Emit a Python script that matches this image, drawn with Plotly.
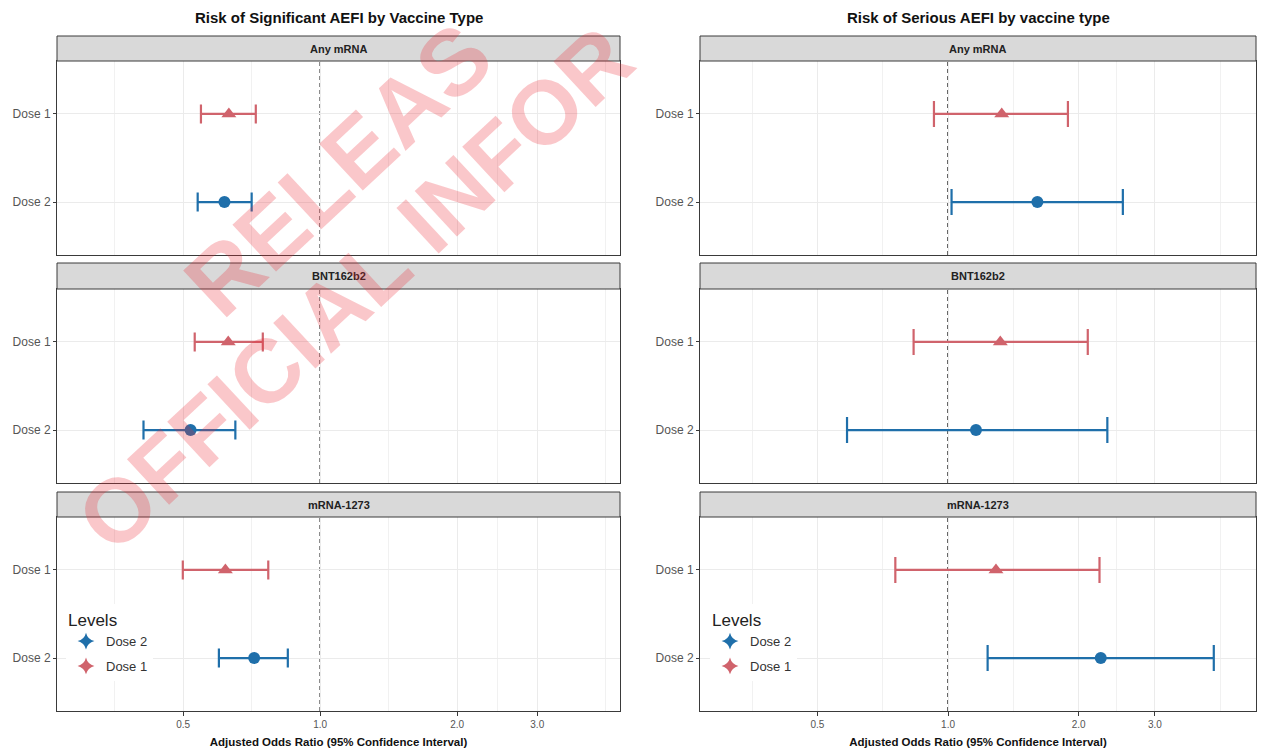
import numpy as np
import plotly.graph_objects as go

# ---------------- data ----------------
vaccines = ["Any mRNA", "BNT162b2", "mRNA-1273"]
dose_levels = ["Dose 2", "Dose 1"]          # bottom -> top
x_ticks = [0.5, 1.0, 2.0, 3.0]
x_ticktext = ["0.5", "1.0", "2.0", "3.0"]

panel_titles = ["Risk of Significant AEFI by Vaccine Type", "Risk of Serious AEFI by vaccine type"]
x_title = "Adjusted Odds Ratio (95% Confidence Interval)"
legend_title = "Levels"

# Significant AEFI (left)
sig_d1_or = [0.630, 0.628, 0.619]
sig_d1_lo = [0.547, 0.530, 0.499]
sig_d1_hi = [0.722, 0.748, 0.769]
sig_d2_or = [0.616, 0.519, 0.716]
sig_d2_lo = [0.538, 0.409, 0.599]
sig_d2_hi = [0.707, 0.651, 0.849]

# Serious AEFI (right)
ser_d1_or = [1.33, 1.32, 1.29]
ser_d1_lo = [0.928, 0.833, 0.756]
ser_d1_hi = [1.89, 2.10, 2.235]
ser_d2_or = [1.607, 1.16, 2.25]
ser_d2_lo = [1.019, 0.585, 1.234]
ser_d2_hi = [2.53, 2.33, 4.10]

# visible parts of the diagonal watermark
watermark_parts = ["RELEAS", "OFFICIAL INFOR"]

# ---------------- style ----------------
W, H = 1261, 749
RED = "#D0636C"
BLUE = "#1F6FAA"
FONT = "Liberation Sans, Arial, sans-serif"
GRID = "#EBEBEB"
BORDER = "#3A3A3A"

col_px = [(57, 620), (700, 1256)]
panel_px = [(61, 255), (289, 483), (517, 711)]
strip_px = [(36, 61), (263, 289), (492, 517)]
x_ranges = [(np.log10(0.264), np.log10(4.56)), (np.log10(0.268), np.log10(5.13))]
cap_w = [9.5, 13]

def px_x(p):
    return p / W

def px_y(p):
    return 1 - p / H

# minor grid (ggplot style midpoints in log space)
lb = np.log10(np.array(x_ticks))
bd = lb[1] - lb[0]
ext = np.concatenate([[lb[0] - bd], lb, [lb[-1] + bd]])
minor_vals = list(10 ** ((ext[:-1] + ext[1:]) / 2))

fig = go.Figure()
layout = {}
shapes = []
annotations = []

data = [
    [(sig_d1_or, sig_d1_lo, sig_d1_hi), (sig_d2_or, sig_d2_lo, sig_d2_hi)],
    [(ser_d1_or, ser_d1_lo, ser_d1_hi), (ser_d2_or, ser_d2_lo, ser_d2_hi)],
]

for c in range(2):
    for r in range(3):
        k = c * 3 + r + 1
        xa = "x" if k == 1 else f"x{k}"
        ya = "y" if k == 1 else f"y{k}"
        xkey = "xaxis" if k == 1 else f"xaxis{k}"
        ykey = "yaxis" if k == 1 else f"yaxis{k}"
        bottom = (r == 2)
        layout[xkey] = dict(
            type="log", range=list(x_ranges[c]),
            domain=[px_x(col_px[c][0]), px_x(col_px[c][1])],
            anchor=ya, tickmode="array", tickvals=x_ticks, ticktext=x_ticktext,
            showticklabels=bottom, ticks="outside" if bottom else "", ticklen=4,
            tickcolor=BORDER, tickfont=dict(size=10, color="#555", family=FONT),
            showgrid=True, gridcolor=GRID, gridwidth=1,
            minor=dict(tickmode="array", tickvals=minor_vals, showgrid=True,
                       gridcolor="#F1F1F1", gridwidth=0.6, ticks=""),
            showline=True, mirror=True, linecolor=BORDER, linewidth=1,
            zeroline=False,
        )
        if bottom:
            layout[xkey]["title"] = dict(text="<b>" + x_title + "</b>",
                                         font=dict(size=11.5, color="#111", family=FONT), standoff=8)
        layout[ykey] = dict(
            type="category", categoryorder="array", categoryarray=dose_levels,
            range=[-0.6, 1.6],
            domain=[px_y(panel_px[r][1]), px_y(panel_px[r][0])],
            anchor=xa, ticks="outside", ticklen=3, tickcolor=BORDER,
            tickfont=dict(size=12, color="#555", family=FONT),
            showgrid=True, gridcolor=GRID, gridwidth=1,
            showline=True, mirror=True, linecolor=BORDER, linewidth=1,
            zeroline=False,
        )
        # reference line at OR = 1
        shapes.append(dict(type="line", xref=xa, yref=f"{ya} domain", x0=1, x1=1, y0=0, y1=1,
                           line=dict(color="#111", width=1.3, dash="4px,3px"), layer="below"))
        # strip
        shapes.append(dict(type="rect", xref="paper", yref="paper",
                           x0=px_x(col_px[c][0]), x1=px_x(col_px[c][1]),
                           y0=px_y(strip_px[r][1]), y1=px_y(strip_px[r][0]),
                           fillcolor="#D9D9D9", line=dict(color=BORDER, width=1), layer="above"))
        annotations.append(dict(text="<b>" + vaccines[r] + "</b>", xref="paper", yref="paper",
                                x=px_x(sum(col_px[c]) / 2), y=px_y(sum(strip_px[r]) / 2),
                                showarrow=False, font=dict(size=11, color="#222", family=FONT),
                                xanchor="center", yanchor="middle"))
        # data
        (d1, d1lo, d1hi), (d2, d2lo, d2hi) = data[c]
        for val, lo, hi, name, col, sym, sz in [
            (d1[r], d1lo[r], d1hi[r], "Dose 1", RED, "triangle-up", 13),
            (d2[r], d2lo[r], d2hi[r], "Dose 2", BLUE, "circle", 12),
        ]:
            fig.add_trace(go.Scatter(
                x=[val], y=[name], xaxis=xa, yaxis=ya, mode="markers",
                marker=dict(symbol=sym, size=sz, color=col),
                error_x=dict(type="data", symmetric=False, array=[hi - val], arrayminus=[val - lo],
                             color=col, thickness=2.2, width=cap_w[c]),
                showlegend=False, hoverinfo="x+y",
            ))

# legends (dummy traces)
for c, lg in enumerate(["legend", "legend2"]):
    k = c * 3 + 3
    for name, col in [("Dose 2", BLUE), ("Dose 1", RED)]:
        fig.add_trace(go.Scatter(
            x=[None], y=[None], xaxis=f"x{k}", yaxis=f"y{k}", mode="markers", name=name,
            marker=dict(symbol="star-diamond", size=16, color=col),
            showlegend=True, legend=lg, legendgroup=f"{lg}-{name}",
        ))

leg_common = dict(
    xanchor="left", yanchor="top", bgcolor="white",
    font=dict(size=13, color="#333", family=FONT),
    title=dict(text=legend_title, font=dict(size=17, color="#222", family=FONT)),
    traceorder="grouped", itemsizing="constant", tracegroupgap=5,
)
layout["legend"] = dict(x=px_x(66), y=px_y(604), **leg_common)
layout["legend2"] = dict(x=px_x(710), y=px_y(604), **leg_common)

# titles
for c in range(2):
    annotations.append(dict(text="<b>" + panel_titles[c] + "</b>", xref="paper", yref="paper",
                            x=px_x(sum(col_px[c]) / 2), y=px_y(18), showarrow=False,
                            font=dict(size=15, color="#111", family=FONT),
                            xanchor="center", yanchor="middle"))

# watermark (only the parts visible in the frame)
for text, size, (cx, cy) in zip(watermark_parts, [93, 90], [(338, 170), (355, 289)]):
    annotations.append(dict(text="<b>" + text + "</b>", xref="paper", yref="paper",
                            x=px_x(cx), y=px_y(cy), showarrow=False, textangle=-43,
                            font=dict(size=size, color="rgba(235,40,50,0.26)", family=FONT),
                            xanchor="center", yanchor="middle"))

fig.update_layout(
    width=W, height=H, margin=dict(l=0, r=0, t=0, b=0),
    paper_bgcolor="white", plot_bgcolor="white",
    shapes=shapes, annotations=annotations,
    font=dict(family=FONT),
    **layout,
)

fig.write_html("out.html", include_plotlyjs=True)
